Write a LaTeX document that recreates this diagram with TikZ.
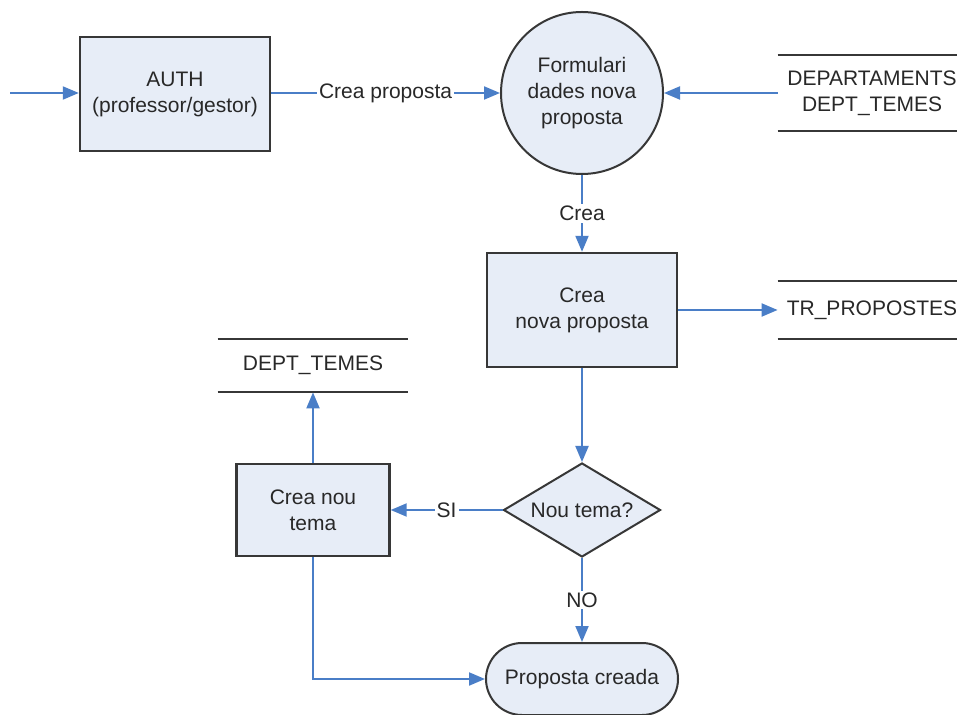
\documentclass[tikz,border=0pt]{standalone}
\usepackage{fontspec}
\setmainfont{Liberation Sans}
\usetikzlibrary{shapes.geometric,arrows.meta}
\definecolor{boxfill}{RGB}{231,237,247}
\definecolor{boxline}{RGB}{55,55,55}
\definecolor{flow}{RGB}{74,126,199}
\definecolor{ink}{RGB}{40,40,40}
\tikzset{
  every node/.style={font=\fontsize{10.5}{13}\selectfont, text=ink, align=center},
  process/.style={draw=boxline, line width=1.2pt, fill=boxfill, rectangle, inner sep=0pt},
  bubble/.style={draw=boxline, line width=1pt, fill=boxfill, circle, minimum size=81pt, inner sep=0pt},
  decision/.style={draw=boxline, line width=1pt, fill=boxfill, diamond, aspect=1.67, inner sep=0pt,
    minimum width=78.5pt, minimum height=47pt},
  terminal/.style={draw=boxline, line width=1pt, fill=boxfill, rectangle, rounded corners=18pt,
    minimum width=96pt, minimum height=36pt, inner sep=0pt},
  store/.style={rectangle, inner sep=0pt},
  storeline/.style={draw=boxline, line width=1pt},
  flowarrow/.style={draw=flow, line width=1pt, -{Triangle[length=8pt,width=6.5pt]}},
  flowlabel/.style={fill=white, inner sep=1pt},
}
\begin{document}
\begin{tikzpicture}[x=0.5pt, y=-0.5pt]
  \useasboundingbox[fill=white] (0,0) rectangle (957,715);

  % processes and other shapes
  \node[process, minimum width=95pt, minimum height=57pt] (auth) at (175,94) {AUTH\\(professor/gestor)};
  \node[bubble] (form) at (582,93) {Formulari\\dades nova\\proposta};
  \node[store, minimum width=94pt, minimum height=38pt] (dep) at (872,93) {DEPARTAMENTS\\DEPT\_TEMES};
  \node[process, minimum width=95pt, minimum height=57pt] (crea) at (582,310) {Crea\\nova proposta};
  \node[store, minimum width=94pt, minimum height=28.5pt] (trp) at (872,310) {TR\_PROPOSTES};
  \node[store, minimum width=95pt, minimum height=26.5pt] (dt) at (313,365.5) {DEPT\_TEMES};
  \node[process, minimum width=76.5pt, minimum height=46pt] (tema) at (313,510) {Crea nou\\tema};
  \node[decision] (q) at (582,510) {Nou tema?};
  \node[terminal] (fi) at (582,679) {Proposta creada};
  \coordinate (start) at (10,93);

  % data store edges
  \foreach \s in {dep,trp,dt} {
    \draw[storeline] (\s.north west) -- (\s.north east);
    \draw[storeline] (\s.south west) -- (\s.south east);
  }

  % flows
  \draw[flowarrow] (start) -- (auth.west |- start);
  \draw[flowarrow] (auth.east |- form) -- node[flowlabel] {Crea proposta} (form.west);
  \draw[flowarrow] (dep.west) -- (form.east);
  \draw[flowarrow] (form.south) -- node[flowlabel] {Crea} (crea.north);
  \draw[flowarrow] (crea.east) -- (trp.west);
  \draw[flowarrow] (crea.south) -- (q.north);
  \draw[flowarrow] (q.west) -- node[flowlabel] {SI} (tema.east);
  \draw[flowarrow] (q.south) -- node[flowlabel] {NO} (fi.north);
  \draw[flowarrow] (tema.north) -- (dt.south);
  \draw[flowarrow] (tema.south) |- (fi.west);
\end{tikzpicture}
\end{document}
